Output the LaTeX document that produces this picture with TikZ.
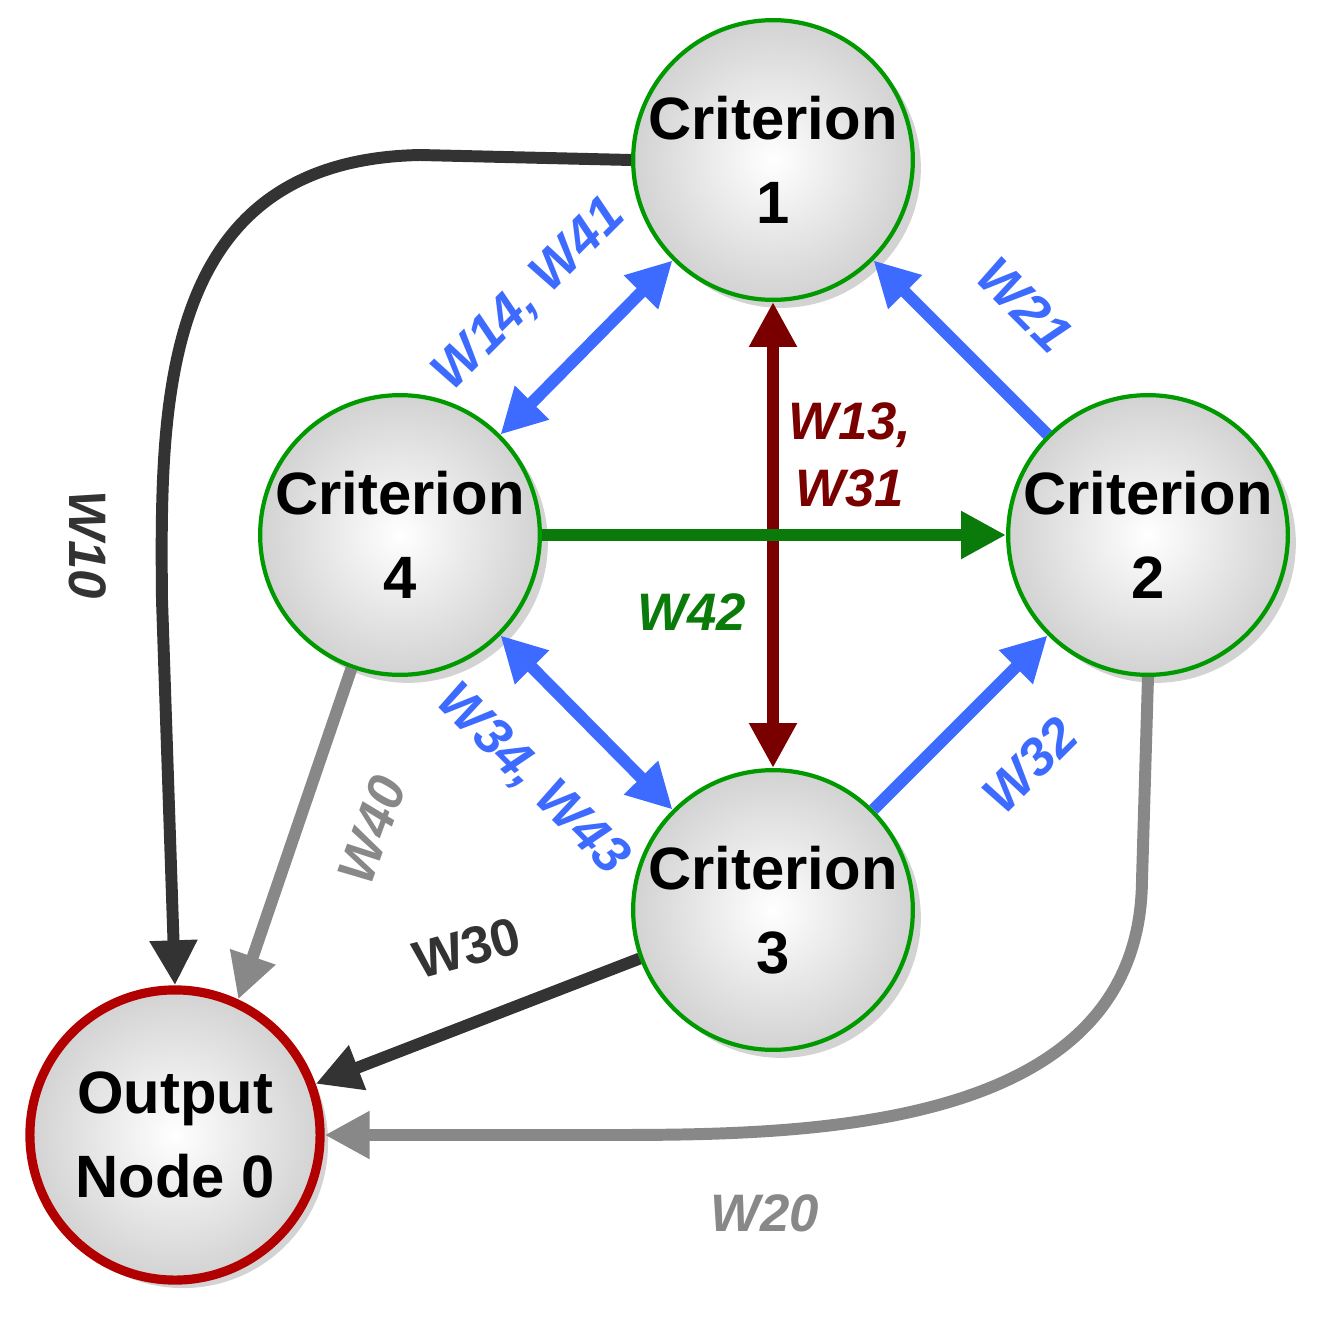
\documentclass[tikz,border=0pt]{standalone}
\usepackage{fontspec}
\setmainfont{Liberation Sans}
\usetikzlibrary{arrows.meta,shadows}
\definecolor{wblue}{HTML}{3D6BFF}
\definecolor{wred}{HTML}{7A0000}
\definecolor{wgreen}{HTML}{0A7A0A}
\definecolor{wdark}{HTML}{333333}
\definecolor{wgray}{HTML}{888888}
\tikzset{
  crit/.style={circle, draw=green!60!black, line width=1.2pt, minimum size=2.76cm,
    inner sep=0pt, align=center, inner color=white, outer color=gray!35,
    drop shadow={shadow xshift=0.08cm, shadow yshift=-0.08cm, opacity=0.35},
    font=\fontsize{17}{24}\selectfont\bfseries},
  outnode/.style={crit, draw=red!70!black, line width=2.6pt, minimum size=2.9cm},
  wire/.style={line width=3.4pt, -{Triangle[length=0.45cm,width=0.45cm]}},
  both/.style={wire, {Triangle[length=0.45cm,width=0.45cm]}-{Triangle[length=0.45cm,width=0.45cm]}},
  lab/.style={font=\fontsize{15}{19}\selectfont\bfseries\itshape, align=center}
}
\begin{document}
\begin{tikzpicture}[x=0.01cm,y=-0.01cm]
  \useasboundingbox (0,0) rectangle (1321,1318);

  \node[crit] (c1) at (773,160) {Criterion\\1};
  \node[crit] (c2) at (1148,535) {Criterion\\2};
  \node[crit] (c3) at (773,910) {Criterion\\3};
  \node[crit] (c4) at (400,535) {Criterion\\4};
  \node[outnode] (out) at (175,1135) {Output\\Node 0};

  % links to the output node
  \draw[wire, wdark] (c1.west) -- (420,155) .. controls (160,160) and (160,400) .. (162,600) -- (out.north);
  \draw[wire, wgray] (c4.-110) -- (out.65);
  \draw[wire, wdark] (c3.200) -- (out.20);
  \draw[wire, wgray] (c2.-90) -- (1142,880) .. controls (1140,1135) and (800,1135) .. (600,1135) -- (out.east);

  % links between criteria
  \draw[both, wblue] (c4.north east) -- (c1.south west);
  \draw[both, wblue] (c4.south east) -- (c3.north west);
  \draw[wire, wblue] (c2.north west) -- (c1.south east);
  \draw[wire, wblue] (c3.north east) -- (c2.south west);
  \draw[both, wred] (c1.south) -- (c3.north);
  \draw[wire, wgreen] (c4.east) -- (c2.west);

  % weights
  \node[lab, wdark, rotate=-90] at (88,545) {W10};
  \node[lab, wgray, rotate=70] at (372,830) {W40};
  \node[lab, wdark, font=\fontsize{15}{19}\selectfont\bfseries, rotate=15] at (467,948) {W30};
  \node[lab, wgray] at (765,1213) {W20};
  \node[lab, wblue, rotate=45] at (530,295) {W14, W41};
  \node[lab, wblue, rotate=-45] at (532,780) {W34, W43};
  \node[lab, wblue, rotate=-45] at (1025,305) {W21};
  \node[lab, wblue, rotate=45] at (1030,765) {W32};
  \node[lab, wred] at (850,455) {W13,\\W31};
  \node[lab, wgreen] at (692,612) {W42};
\end{tikzpicture}
\end{document}
